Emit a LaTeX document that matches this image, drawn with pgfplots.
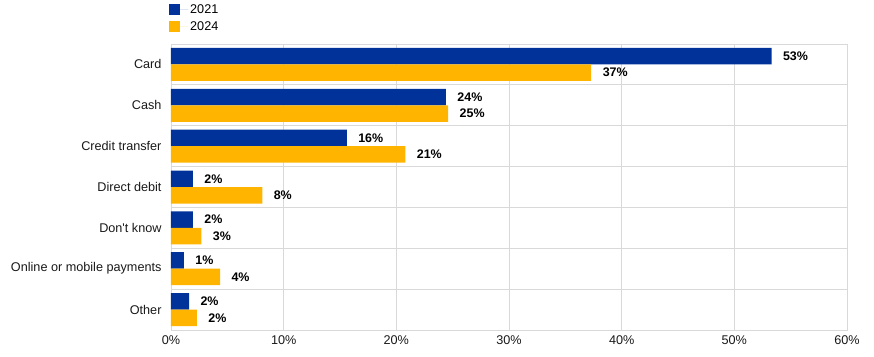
\documentclass[border=0pt]{standalone}
\usepackage{pgfplots}
\pgfplotsset{compat=1.18}
\usepackage{fontspec}
\setmainfont{Liberation Sans}
\definecolor{ecbblue}{HTML}{003299}
\definecolor{ecbyellow}{HTML}{FFB400}
\definecolor{gridgray}{HTML}{D9D9D9}
\begin{document}
\begin{tikzpicture}
\begin{axis}[
  scale only axis,
  width=676bp, height=286bp,
  xmin=0, xmax=60,
  ymin=-0.5, ymax=6.5,
  xbar, bar width=16.5bp,
  xtick={0,10,...,60},
  xticklabel={\pgfmathprintnumber{\tick}\%},
  /pgf/number format/assume math mode=true,
  ytick={0,...,6},
  yticklabels={Other,Online or mobile payments,Don\textquotesingle t know,Direct debit,Credit transfer,Cash,Card},
  minor ytick={0.5,1.5,...,5.5},
  xmajorgrids, yminorgrids,
  grid style={gridgray, line width=0.8bp},
  minor grid style={gridgray, line width=0.8bp},
  axis line style={gridgray, line width=0.8bp},
  major tick length=0pt, minor tick length=0pt,
  tick label style={font=\fontsize{12.7}{14}\selectfont, text=black!90},
  yticklabel style={xshift=-6bp},
  xticklabel style={yshift=-2bp},
  nodes near coords={\pgfmathprintnumber[fixed,precision=0]{\pgfplotspointmeta}\%},
  point meta=x,
  every node near coord/.append style={font=\bfseries\fontsize{12.5}{14}\selectfont, text=black, anchor=west, xshift=8bp},
  legend style={draw=none, fill=none, at={(0,1)}, anchor=south west, xshift=-2bp, yshift=10bp,
    font=\fontsize{12.7}{14}\selectfont, row sep=2.5bp, inner sep=0pt},
  legend cell align=left,
  legend image code/.code={\fill[#1] (0bp,-5bp) rectangle (11bp,6bp); \path (0bp,0bp) -- (19bp,0bp);},
  clip=false,
]
\addplot[fill=ecbblue, draw=none, bar shift=8.25bp] coordinates {
  (1.6,0) (1.15,1) (1.95,2) (1.95,3) (15.6,4) (24.4,5) (53.3,6)};
\addlegendentry{2021}
\addplot[fill=ecbyellow, draw=none, bar shift=-8.25bp] coordinates {
  (2.3,0) (4.35,1) (2.7,2) (8.1,3) (20.8,4) (24.6,5) (37.3,6)};
\addlegendentry{2024}
\path (rel axis cs:0,0) ++(-171bp,-27bp) rectangle ++(874bp,357bp);
\end{axis}
\end{tikzpicture}
\end{document}
